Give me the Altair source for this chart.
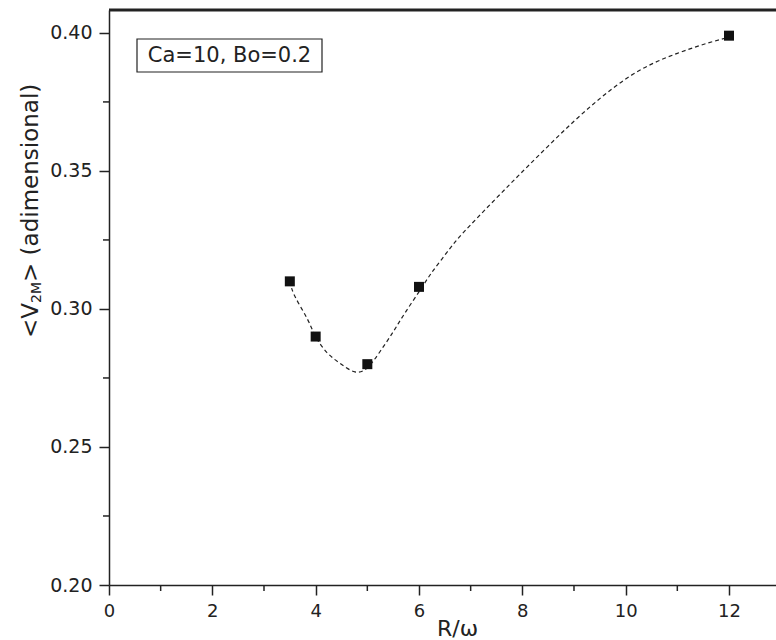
import altair as alt
import pandas as pd

# Measured points: mean velocity vs. R/omega
r_ratio = [3.5, 4.0, 5.0, 6.0, 12.0]
v2m = [0.310, 0.290, 0.280, 0.308, 0.399]

# Smoothed guide curve through the measurements
fit_x = [3.5, 3.6, 3.83, 4.0, 4.22, 4.47, 4.76, 5.0, 5.24, 5.5, 5.73, 6.0,
         6.21, 6.44, 6.7, 7.0, 7.5, 8.0, 8.5, 9.0, 9.5, 10.0, 10.5, 11.0,
         11.5, 12.0]
fit_y = [0.310, 0.3045, 0.2967, 0.2900, 0.2842, 0.2803, 0.2772, 0.2787,
         0.2844, 0.2917, 0.2986, 0.3062, 0.3122, 0.3180, 0.3243, 0.3305,
         0.3402, 0.3497, 0.3590, 0.3680, 0.3762, 0.3833, 0.3887, 0.3926,
         0.3958, 0.3985]

x_major = [0, 2, 4, 6, 8, 10, 12]
x_minor = [1, 3, 5, 7, 9, 11]
y_major = [0.20, 0.25, 0.30, 0.35, 0.40]
y_minor = [0.225, 0.275, 0.325, 0.375]

annotation = "Ca=10, Bo=0.2"
x_title = "R/ω"

W, H = 667, 575
INK = "#222222"
FONT = "DejaVu Sans"

x_scale = alt.Scale(domain=[0, 12.91], nice=False, zero=False)
y_scale = alt.Scale(domain=[0.20, 0.4083], nice=False, zero=False)

pts = pd.DataFrame({"r": r_ratio, "v": v2m})
fit = pd.DataFrame({"r": fit_x, "v": fit_y})
one = pd.DataFrame({"k": [0]})

x_axis = alt.Axis(values=x_major, format="d", title=x_title, titleX=348,
                  titleY=43, titleBaseline="middle", titleFontSize=22,
                  titleFontWeight="normal", titleFont=FONT, titleColor=INK,
                  labelPadding=7, labelFontSize=18, labelFlush=False)
y_axis = alt.Axis(values=y_major, format=".2f", title=None, labelPadding=7,
                  labelFontSize=19, labelFlush=False)

curve = alt.Chart(fit).mark_line(
    interpolate="natural", color=INK, strokeWidth=1.2, strokeDash=[4, 3]
).encode(
    x=alt.X("r:Q", scale=x_scale, axis=x_axis),
    y=alt.Y("v:Q", scale=y_scale, axis=y_axis),
)

points = alt.Chart(pts).mark_point(
    shape="square", filled=True, size=100, color="#111111", opacity=1
).encode(x=alt.X("r:Q", scale=x_scale), y=alt.Y("v:Q", scale=y_scale))

# Minor ticks on both axes
x_minor_ticks = alt.Chart(pd.DataFrame({"r": x_minor})).mark_rule(
    color=INK, strokeWidth=1.5
).encode(x=alt.X("r:Q", scale=x_scale), y=alt.value(H), y2=alt.value(H + 6))

y_minor_ticks = alt.Chart(pd.DataFrame({"v": y_minor})).mark_rule(
    color=INK, strokeWidth=1.5
).encode(y=alt.Y("v:Q", scale=y_scale), x=alt.value(0), x2=alt.value(-6))

# Heavy top frame line
top_line = alt.Chart(one).mark_rule(color=INK, strokeWidth=3).encode(
    x=alt.value(0), x2=alt.value(W), y=alt.value(0)
)

# Boxed parameter annotation
box = alt.Chart(one).mark_rect(
    fill="white", stroke=INK, strokeWidth=1.2
).encode(x=alt.value(28), x2=alt.value(213), y=alt.value(29), y2=alt.value(62))

box_text = alt.Chart(one).mark_text(
    text=annotation, font=FONT, fontSize=21, color=INK,
    align="center", baseline="middle"
).encode(x=alt.value(120.5), y=alt.value(46))

# Rotated y-axis title with subscript
title_main1 = alt.Chart(one).mark_text(
    text="<V", font=FONT, fontSize=23, color=INK, angle=270,
    align="left", baseline="middle"
).encode(x=alt.value(-78), y=alt.value(328))

title_sub = alt.Chart(one).mark_text(
    text="2M", font=FONT, fontSize=14, color=INK, angle=270,
    align="left", baseline="middle"
).encode(x=alt.value(-72), y=alt.value(293))

title_main2 = alt.Chart(one).mark_text(
    text="> (adimensional)", font=FONT, fontSize=23, color=INK, angle=270,
    align="left", baseline="middle"
).encode(x=alt.value(-78), y=alt.value(272))

chart = alt.layer(
    box, box_text, curve, points, x_minor_ticks, y_minor_ticks, top_line,
    title_main1, title_sub, title_main2
).properties(
    width=W, height=H,
    autosize=alt.AutoSizeParams(type="none"),
    padding={"left": 109, "top": 10, "right": 0, "bottom": 55},
    background="white",
).configure_view(
    stroke=None
).configure_axis(
    grid=False, domainColor=INK, domainWidth=1.5, tickColor=INK,
    tickWidth=1.5, tickSize=10, labelFont=FONT, labelColor=INK,
)

chart.save("out.html", embed_options={"renderer": "svg", "actions": False})
